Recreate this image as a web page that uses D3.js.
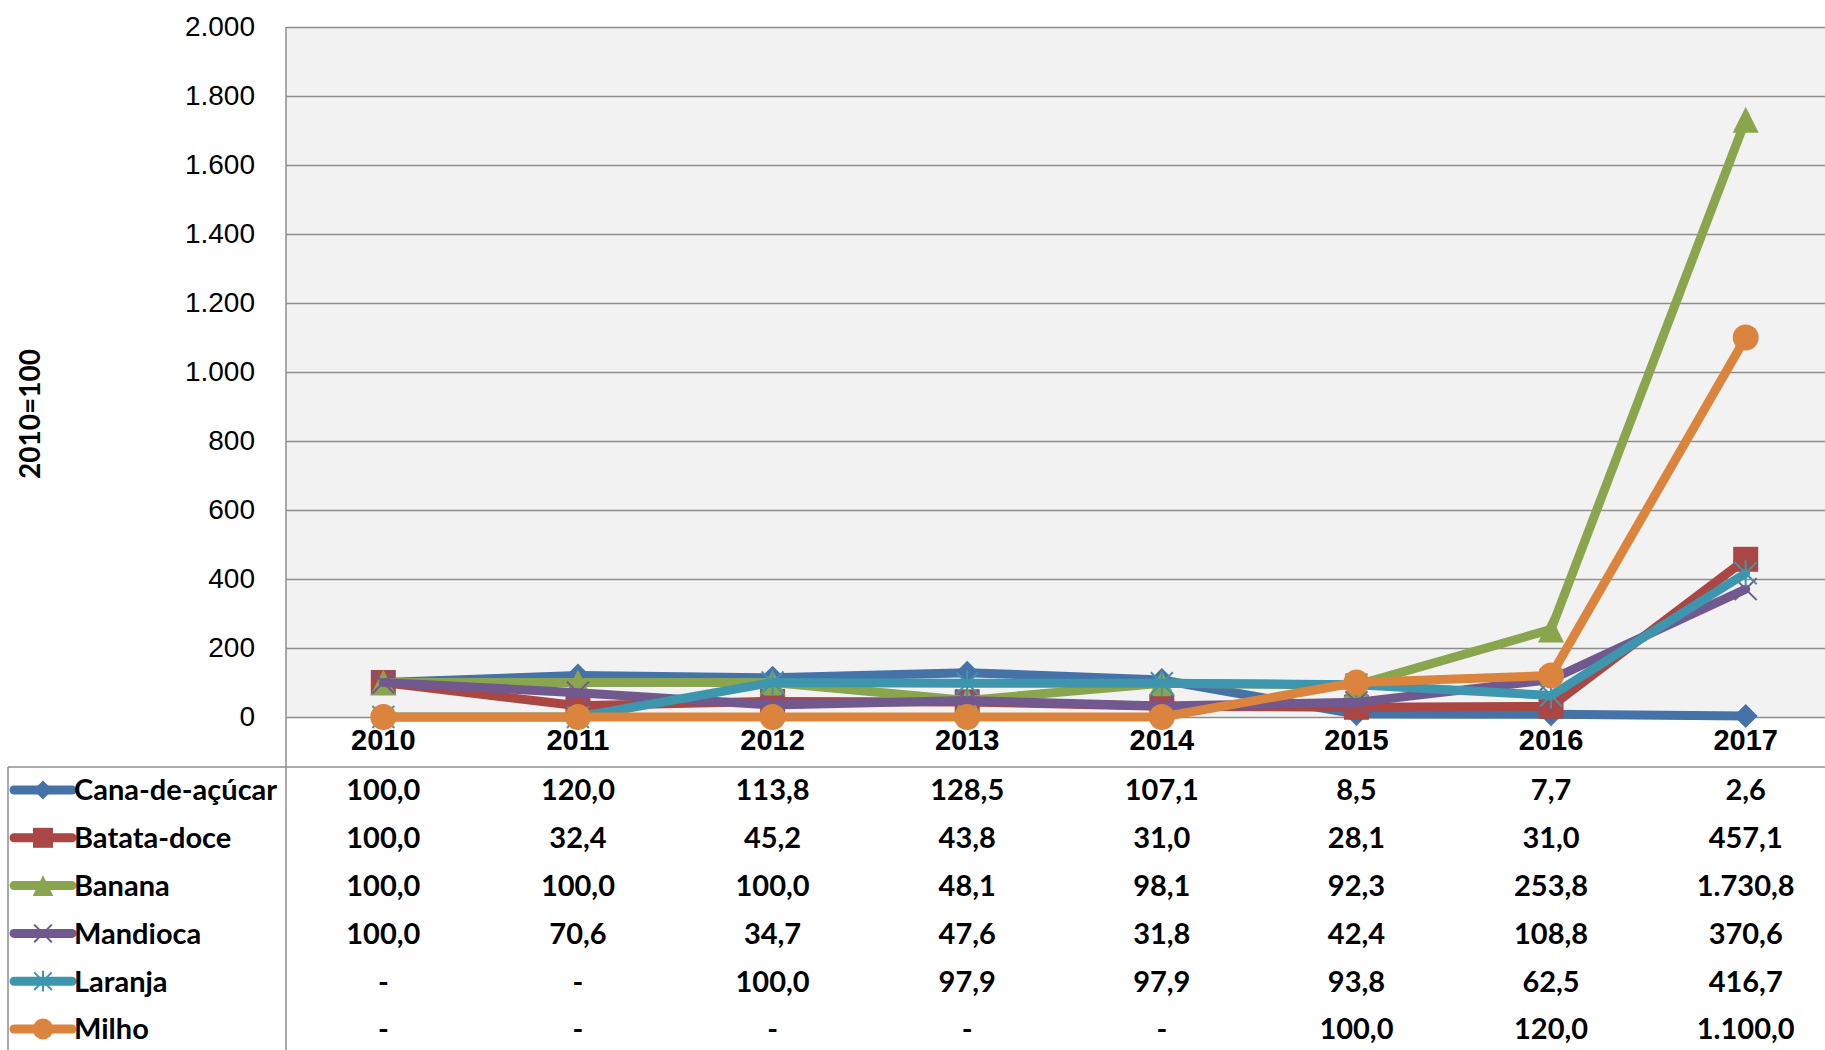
<!DOCTYPE html>
<meta charset="utf-8">
<style>

body {
    margin: 0;
    background: #fff;
}

svg {
    display: block;
    font-family: Lato, "Open Sans", sans-serif;
}

.plotbg {
    fill: #f2f2f2;
}

.grid line {
    stroke: #8e8e8e;
    stroke-width: 1.5px;
}

.frame {
    stroke: #8e8e8e;
    stroke-width: 1.5px;
    fill: none;
}

.ytick text {
    font-size: 28px;
    fill: #000;
}

.xtick text {
    font-size: 29px;
    font-weight: bold;
    fill: #000;
}

.series path.line {
    fill: none;
    stroke-width: 9px;
    stroke-linejoin: round;
    stroke-linecap: round;
}

.tbl text {
    font-size: 29px;
    font-weight: bold;
    fill: #000;
}

</style>
<svg width="1825" height="1050"></svg>

<script src="https://d3js.org/d3.v7.min.js"></script>
<script>
var years = ["2010", "2011", "2012", "2013", "2014", "2015", "2016", "2017"];
var names = ["Cana-de-açúcar", "Batata-doce", "Banana", "Mandioca", "Laranja", "Milho"];

var cana     = [100.0, 120.0, 113.8, 128.5, 107.1, 8.5, 7.7, 2.6];
var batata   = [100.0, 32.4, 45.2, 43.8, 31.0, 28.1, 31.0, 457.1];
var banana   = [100.0, 100.0, 100.0, 48.1, 98.1, 92.3, 253.8, 1730.8];
var mandioca = [100.0, 70.6, 34.7, 47.6, 31.8, 42.4, 108.8, 370.6];
var laranja  = [null, null, 100.0, 97.9, 97.9, 93.8, 62.5, 416.7];
var milho    = [null, null, null, null, null, 100.0, 120.0, 1100.0];

var yTicks = [0, 200, 400, 600, 800, 1000, 1200, 1400, 1600, 1800, 2000];
var yTitle = "2010=100";

var colors  = ["#4572a7", "#aa4643", "#89a54e", "#71588f", "#3d96ae", "#db843d"];
var markers = ["diamond", "square", "triangle", "x", "star", "circle"];

var data = [cana, batata, banana, mandioca, laranja, milho].map(function(v, i) {
    return { name: names[i], values: v, color: colors[i], marker: markers[i] };
});

var svg = d3.select("svg"),
    width = +svg.attr("width"),
    height = +svg.attr("height");

var plot = { left: 286, top: 27, right: 1843, bottom: 717 };
var tableTop = 767, rowY0 = 790, rowH = 47.8;

var ptbr = d3.formatLocale({ decimal: ",", thousands: ".", grouping: [3], currency: ["R$", ""] });
var fmtAxis = ptbr.format(",.0f"),
    fmtVal = ptbr.format(",.1f");

var x = d3.scaleBand()
    .domain(years)
    .range([plot.left, plot.right]);

var y = d3.scaleLinear()
    .domain([0, 2000])
    .range([plot.bottom, plot.top]);

function cx(yr) { return x(yr) + x.bandwidth() / 2; }

// plot area
svg.append("rect")
    .attr("class", "plotbg")
    .attr("x", plot.left)
    .attr("y", plot.top)
    .attr("width", plot.right - plot.left)
    .attr("height", plot.bottom - plot.top);

// grid lines
svg.append("g")
    .attr("class", "grid")
    .attr("transform", "translate(" + plot.left + ",0)")
    .call(d3.axisLeft(y).tickValues(yTicks).tickSize(-(plot.right - plot.left)).tickFormat(""))
    .call(function(g) { g.select(".domain").remove(); });

// y labels
svg.append("g")
    .attr("class", "ytick")
    .attr("transform", "translate(" + plot.left + ",0)")
    .call(d3.axisLeft(y).tickValues(yTicks).tickSize(0).tickPadding(31).tickFormat(fmtAxis))
    .call(function(g) {
        g.select(".domain").remove();
        g.selectAll("text").attr("font-family", null).attr("font-size", null);
    });

// x labels
svg.append("g")
    .attr("class", "xtick")
    .attr("transform", "translate(0," + plot.bottom + ")")
    .call(d3.axisBottom(x).tickSize(0))
    .call(function(g) {
        g.select(".domain").remove();
        g.selectAll("text")
            .attr("font-family", null).attr("font-size", null)
            .attr("y", 23).attr("dy", "0.36em");
    });

// frame lines: left axis through table, table top, table left
svg.append("line").attr("class", "frame")
    .attr("x1", plot.left).attr("x2", plot.left)
    .attr("y1", plot.top).attr("y2", height);
svg.append("line").attr("class", "frame")
    .attr("x1", 8).attr("x2", width)
    .attr("y1", tableTop).attr("y2", tableTop);
svg.append("line").attr("class", "frame")
    .attr("x1", 8).attr("x2", 8)
    .attr("y1", tableTop).attr("y2", height);

// y axis title
svg.append("text")
    .attr("transform", "translate(29,414) rotate(-90)")
    .attr("text-anchor", "middle")
    .attr("dominant-baseline", "central")
    .style("font-size", "28px")
    .style("font-weight", "bold")
    .text(yTitle);

function markerPath(type, s) {
    switch (type) {
        case "diamond":  return "M0," + (-12 * s) + "L" + (12 * s) + ",0L0," + (12 * s) + "L" + (-12 * s) + ",0Z";
        case "square":   return "M" + (-12.5 * s) + "," + (-12.5 * s) + "h" + (25 * s) + "v" + (25 * s) + "h" + (-25 * s) + "Z";
        case "triangle": return "M0," + (-13 * s) + "L" + (13 * s) + "," + (13 * s) + "L" + (-13 * s) + "," + (13 * s) + "Z";
        case "x":        return "M" + (-11 * s) + "," + (-11 * s) + "L" + (11 * s) + "," + (11 * s) + "M" + (11 * s) + "," + (-11 * s) + "L" + (-11 * s) + "," + (11 * s);
        case "star":     return "M" + (-11 * s) + "," + (-11 * s) + "L" + (11 * s) + "," + (11 * s) + "M" + (11 * s) + "," + (-11 * s) + "L" + (-11 * s) + "," + (11 * s) + "M0," + (-13 * s) + "L0," + (13 * s);
        case "circle":   return d3.symbol(d3.symbolCircle, Math.PI * 13 * 13 * s * s)();
    }
}

function styleMarker(sel, d) {
    var open = d.marker == "x" || d.marker == "star";
    sel.attr("fill", open ? "none" : d.color)
        .attr("stroke", open ? d.color : "none")
        .attr("stroke-width", open ? 2 : 0);
}

var line = d3.line()
    .x(function(v, i) { return cx(years[i]); })
    .y(function(v) { return y(v == null ? 0 : v); });

var series = svg.selectAll(".series")
    .data(data)
    .enter().append("g")
    .attr("class", "series");

series.append("path")
    .attr("class", "line")
    .attr("stroke", function(d) { return d.color; })
    .attr("d", function(d) { return line(d.values); });

series.each(function(d) {
    d3.select(this).selectAll(".mk")
        .data(d.values)
        .enter().append("path")
        .attr("class", "mk")
        .attr("transform", function(v, i) { return "translate(" + cx(years[i]) + "," + y(v == null ? 0 : v) + ")"; })
        .attr("d", markerPath(d.marker, 1))
        .call(styleMarker, d);
});

// data table
var rows = svg.selectAll(".tbl")
    .data(data)
    .enter().append("g")
    .attr("class", "tbl")
    .attr("transform", function(d, i) { return "translate(0," + (rowY0 + i * rowH) + ")"; });

rows.append("line")
    .attr("x1", 14).attr("x2", 72)
    .attr("stroke", function(d) { return d.color; })
    .attr("stroke-width", 9)
    .attr("stroke-linecap", "round");

rows.append("path")
    .attr("transform", "translate(43,0)")
    .attr("d", function(d) { return markerPath(d.marker, 0.8); })
    .each(function(d) { d3.select(this).call(styleMarker, d); });

rows.append("text")
    .attr("x", 74)
    .attr("dy", "0.36em")
    .text(function(d) { return d.name; });

rows.selectAll(".val")
    .data(function(d) { return d.values; })
    .enter().append("text")
    .attr("class", "val")
    .attr("x", function(v, i) { return cx(years[i]); })
    .attr("dy", "0.36em")
    .attr("text-anchor", "middle")
    .text(function(v) { return v == null ? "-" : fmtVal(v); });
</script>
